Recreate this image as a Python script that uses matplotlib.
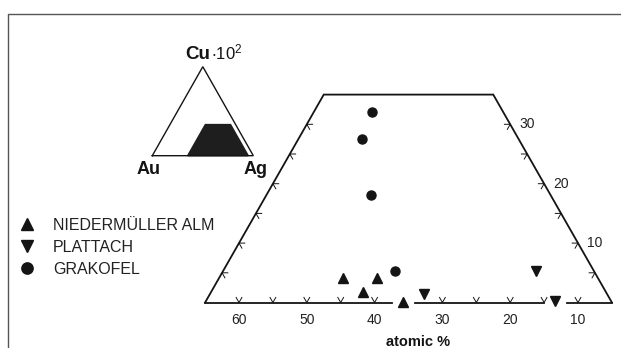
import numpy as np
import matplotlib
matplotlib.use("Agg")
import matplotlib.pyplot as plt
from matplotlib.lines import Line2D

plt.rcParams['font.family'] = ['Liberation Sans', 'DejaVu Sans']
plt.rcParams['mathtext.fontset'] = 'custom'
plt.rcParams['mathtext.rm'] = 'Liberation Sans'

# compositions: Au in atomic %, Cu in atomic % x 10^2
nied_au = [42.6, 37.6, 40.9, 35.7]
nied_cu = [4.1, 4.1, 1.7, 0.1]
platt_au = [31.9, 13.5, 13.3]
platt_cu = [1.5, 5.3, 0.2]
grak_au = [24.4, 28.1, 31.5, 34.3]
grak_cu = [32.0, 27.5, 18.1, 5.3]

# part of the Au-Ag-Cu triangle that is shown
au_max, au_min, cu_max = 65, 5, 35
bottom_ticks = [60, 55, 50, 45, 40, 35, 30, 25, 20, 15, 10]
bottom_labels = [60, 50, 40, 30, 20, 10]
side_ticks = [5, 10, 15, 20, 25, 30]
side_labels = [10, 20, 30]

INK = '#141414'


def tern(au, cu, h=1.0):
    # ternary -> cartesian, Ag = 100 - Au - Cu
    au = np.asarray(au, dtype=float)
    cu = np.asarray(cu, dtype=float)
    return 100 - au - cu / 2, cu * h


W, H = 621, 348
fig = plt.figure(figsize=(W / 100, H / 100), dpi=100)
ax = fig.add_axes([0, 0, 1, 1])
# pixel mapping
ax.set_xlim((0 + 32.2) / 6.78, (W + 32.2) / 6.78)
ax.set_ylim((302.5 - H) / 5.94, 302.5 / 5.94)
ax.axis('off')

# left, top and right side of the trapezoid
x, y = tern([au_max, au_max - cu_max, au_min, au_min], [0, cu_max, cu_max, 0])
ax.plot(x, y, color=INK, lw=1.3, solid_joinstyle='miter')

# base line, broken where a point sits on it
on_line = [a for a, c in zip(nied_au + platt_au, nied_cu + platt_cu) if c < 0.5]
gaps = sorted([(a + 1.7, a - 1.7) for a in on_line], reverse=True)
start = au_max
for hi, lo in gaps:
    x, y = tern([start, hi], [0, 0])
    ax.plot(x, y, color=INK, lw=1.3)
    start = lo
x, y = tern([start, au_min], [0, 0])
ax.plot(x, y, color=INK, lw=1.3)

# ternary tick marks
t = 0.85
for a in bottom_ticks:
    if any(lo < a < hi for hi, lo in gaps):
        continue
    x, y = tern([a - t, a, a], [t, 0, t])
    ax.plot(x, y, color=INK, lw=0.7)
for c in side_ticks:
    a = au_max - c
    x, y = tern([a - t, a, a], [c, c, c - t])
    ax.plot(x, y, color=INK, lw=0.7)
    x, y = tern([au_min + t, au_min, au_min + t], [c, c, c - t])
    ax.plot(x, y, color=INK, lw=0.7)

for a in bottom_labels:
    x, _ = tern(a, 0)
    ax.text(x, -2.95, str(a), ha='center', va='center', fontsize=10, color='#222222')
for c in side_labels:
    x, y = tern(au_min, c)
    ax.text(x + 1.4, y, str(c), ha='left', va='center', fontsize=10, color='#222222')

ax.text(418 / W, 1 - 346.5 / H, 'atomic %', transform=ax.transAxes,
        ha='center', va='baseline', fontsize=10.5, fontweight='bold', color=INK)

# data
hs = []
for au, cu, m, lab in [(nied_au, nied_cu, '^', 'NIEDERMÜLLER ALM'),
                       (platt_au, platt_cu, 'v', 'PLATTACH'),
                       (grak_au, grak_cu, 'o', 'GRAKOFEL')]:
    x, y = tern(au, cu)
    h, = ax.plot(x, y, m, ls='none', color=INK, ms=6.5, label=lab, zorder=5)
    hs.append(h)

ax.legend(handles=hs, loc='upper left', bbox_to_anchor=(19.3 / W, 1 - 218 / H),
          bbox_transform=fig.transFigure, frameon=False, fontsize=11.5,
          handlelength=1.0, handletextpad=1.1, labelspacing=0.43,
          borderpad=0, borderaxespad=0, markerscale=1.25, labelcolor='#222222')

# small overview triangle
ins = fig.add_axes([152.3 / W, 1 - 155.7 / H, 101 / W, 89 / H])
hr = np.sqrt(3) / 2
ins.set_xlim(0, 100)
ins.set_ylim(0, 100 * hr)
ins.axis('off')
x, y = tern([100, 0, 0, 100], [0, 0, 100, 0], hr)
ins.plot(x, y, color=INK, lw=1.0, clip_on=False, solid_joinstyle='miter')
x, y = tern([au_max, au_max - cu_max, au_min, au_min], [0, cu_max, cu_max, 0], hr)
ins.fill(x, y, color='#1e1e1e', clip_on=False)
ins.text(-3.3, -18, 'Au', ha='center', va='baseline', fontsize=13, fontweight='bold', color=INK)
ins.text(102.2, -18, 'Ag', ha='center', va='baseline', fontsize=13, fontweight='bold', color=INK)
ins.text(57.5, 94, 'Cu', ha='right', va='baseline', fontsize=13.5, fontweight='bold', color=INK)
ins.text(58.5, 94, r'$\mathregular{\cdot10^2}$', ha='left', va='baseline', fontsize=12, color=INK)

# frame of the scanned page
fig.add_artist(Line2D([8 / W, 8 / W, 1], [0, 1 - 14 / H, 1 - 14 / H],
                      transform=fig.transFigure, color='#555555', lw=1.0))

fig.savefig('out.png', dpi=100)
